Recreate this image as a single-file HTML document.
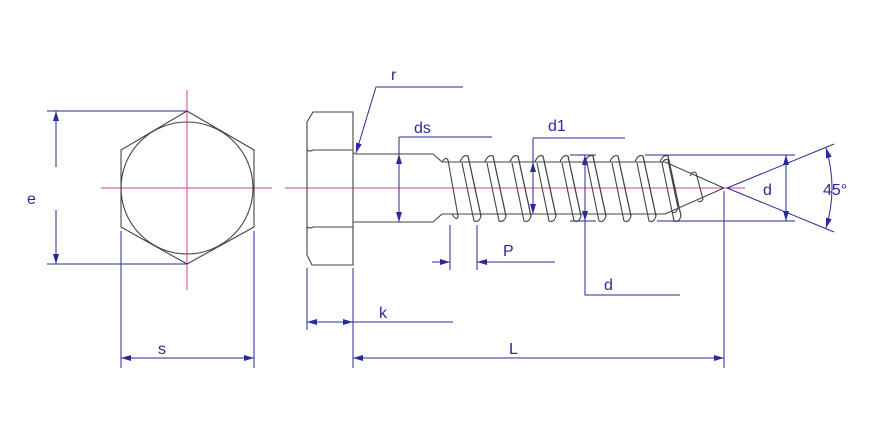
<!DOCTYPE html>
<html><head><style>body{margin:0;background:#fff}svg{display:block}text{font-family:"Liberation Sans",sans-serif;fill:#2a2a9a;font-size:16px}</style></head><body>
<svg width="872" height="429" viewBox="0 0 872 429" xmlns="http://www.w3.org/2000/svg">
<defs>
<marker id="a" viewBox="0 0 10 6" refX="10" refY="3" markerWidth="10" markerHeight="6" orient="auto-start-reverse" markerUnits="userSpaceOnUse"><path d="M0,0 L10,3 L0,6z" fill="#2a2a9a"/></marker>
</defs>
<g stroke="#d6409a" stroke-width="1" fill="none">
<line x1="101" y1="188" x2="272" y2="188"/><line x1="187" y1="90" x2="187" y2="290"/>
<line x1="285" y1="188" x2="745" y2="188"/>
</g>
<g stroke="#444" stroke-width="1.1" fill="none">
<polygon points="187,111 254,150 254,227 187,264 121,227 121,150"/>
<circle cx="187" cy="188" r="66"/>
<path d="M313,112 H353 V265 H312 L307,255 V122 Z"/>
<path d="M307,150 Q310,152 313,150 H353 M307,227 Q310,229 313,227 H353"/>
<path d="M353,153 Q355,154 357,154 H433 L442,162 M353,222 Q355,222 357,222 H433 L442,214"/>
<path d="M442,162 H665 L724,188 L665,214 H442"/>
</g>
<g stroke="#444" stroke-width="1.1" fill="none">
<path d="M442,162 Q446,156 448,160 L458,216 Q457,222 452,214"/>
<g id="t"><path d="M460,162 Q463,154 468,156 L481,216 Q479,223 474,221 L462,163"/><path d="M468,156 L481,216"/></g>
<use href="#t" x="25"/><use href="#t" x="50"/><use href="#t" x="75"/><use href="#t" x="100"/><use href="#t" x="125"/><use href="#t" x="150"/><use href="#t" x="175"/><use href="#t" x="200"/>
<path d="M662,163 Q665,158 668,160 L678,208 Q676,214 672,212"/>
<path d="M690,176 Q693,170 696,173 L703,199 Q701,203 698,201"/>
</g>
<g stroke="#2a2a9a" stroke-width="1" fill="none">
<line x1="47" y1="111" x2="187" y2="111"/><line x1="47" y1="264" x2="187" y2="264"/>
<line x1="56" y1="167" x2="56" y2="111" marker-end="url(#a)"/><line x1="56" y1="210" x2="56" y2="264" marker-end="url(#a)"/>
<line x1="121" y1="231" x2="121" y2="368"/><line x1="254" y1="231" x2="254" y2="368"/>
<line x1="121" y1="358" x2="254" y2="358" marker-start="url(#a)" marker-end="url(#a)"/>
<polyline points="463,87 376,87 356,153" marker-end="url(#a)"/>
<line x1="399" y1="137" x2="492" y2="137"/><line x1="399" y1="154" x2="399" y2="222" marker-start="url(#a)" marker-end="url(#a)"/><line x1="399" y1="137" x2="399" y2="154"/>
<line x1="533" y1="138" x2="625" y2="138"/><line x1="533" y1="138" x2="533" y2="162"/><line x1="533" y1="162" x2="533" y2="214" marker-start="url(#a)" marker-end="url(#a)"/>
<line x1="570" y1="155" x2="596" y2="155"/><line x1="570" y1="221" x2="596" y2="221"/>
<line x1="585" y1="155" x2="585" y2="221" marker-start="url(#a)" marker-end="url(#a)"/><polyline points="585,221 585,295 680,295"/>
<line x1="645" y1="155" x2="795" y2="155"/><line x1="657" y1="221" x2="795" y2="221"/>
<line x1="786" y1="155" x2="786" y2="221" marker-start="url(#a)" marker-end="url(#a)"/>
<line x1="727" y1="188" x2="834" y2="144"/><line x1="727" y1="188" x2="834" y2="232"/>
<path d="M826,148 Q838,188 826,228" marker-start="url(#a)" marker-end="url(#a)"/>
<line x1="450" y1="225" x2="450" y2="270"/><line x1="477" y1="225" x2="477" y2="270"/>
<line x1="432" y1="262" x2="450" y2="262" marker-end="url(#a)"/><line x1="555" y1="262" x2="477" y2="262" marker-end="url(#a)"/>
<line x1="307" y1="268" x2="307" y2="330"/><line x1="353" y1="268" x2="353" y2="368"/>
<line x1="307" y1="322" x2="353" y2="322" marker-start="url(#a)" marker-end="url(#a)"/><line x1="353" y1="322" x2="453" y2="322"/>
<line x1="724" y1="191" x2="724" y2="368"/>
<line x1="353" y1="358" x2="724" y2="358" marker-start="url(#a)" marker-end="url(#a)"/>
</g>
<text x="27" y="204">e</text><text x="158" y="354">s</text>
<text x="391" y="80">r</text><text x="414" y="133">ds</text><text x="548" y="131">d1</text>
<text x="763" y="195">d</text><text x="823" y="195">45°</text>
<text x="604" y="290">d</text><text x="503" y="256">P</text>
<text x="379" y="318">k</text><text x="509" y="354">L</text>
</svg>
</body></html>
